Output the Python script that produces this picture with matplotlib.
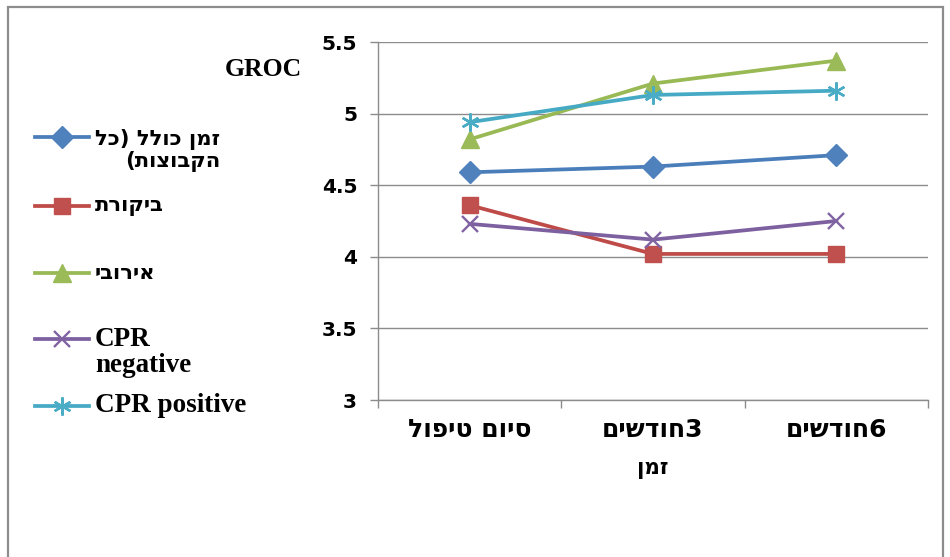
import matplotlib
matplotlib.use('Agg')
import matplotlib.pyplot as plt
from matplotlib.lines import Line2D
from matplotlib.patches import Rectangle

# GROC means per group at the three follow-up points
times = ['סיום טיפול', '3חודשים', '6חודשים']
total = [4.59, 4.63, 4.71]
control = [4.36, 4.02, 4.02]
aerobic = [4.82, 5.21, 5.37]
cpr_neg = [4.23, 4.12, 4.25]
cpr_pos = [4.94, 5.13, 5.16]

series_names = [['זמן כולל (כל', 'הקבוצות)'], ['ביקורת'], ['אירובי'],
                ['CPR', 'negative'], ['CPR positive']]
series_vals = [total, control, aerobic, cpr_neg, cpr_pos]
line_cols = ['#4A7EBB', '#BE4B48', '#98B954', '#7D60A0', '#46AAC5']
marker_cols = ['#4F81BD', '#C0504D', '#9BBB59', '#8064A2', '#4BACC6']
markers = ['D', 's', '^', 'x', (6, 2, 0)]
msizes = [11, 12, 13.5, 11, 13]

HEB = ['DejaVu Sans']
SERIF = ['Liberation Serif', 'DejaVu Serif']
MIRROR = str.maketrans('()', ')(')


def is_heb(s):
    return any('\u05d0' <= c <= '\u05ea' for c in s)


def rtl(s):
    # matplotlib lays glyphs out left to right, so right-to-left lines are flipped by hand
    return s[::-1].translate(MIRROR) if is_heb(s) else s


def mew(mk):
    return 1.7 if mk in ('x', (6, 2, 0)) else 1


fig = plt.figure(figsize=(9.5, 5.57), dpi=100)
ax = fig.add_axes([378 / 950, 1 - 400 / 557, 550 / 950, 358 / 557])

x = list(range(len(times)))
for vals, lc, mc, mk, ms in zip(series_vals, line_cols, marker_cols, markers, msizes):
    ax.plot(x, vals, color=lc, lw=2.7, marker=mk, ms=ms, mfc=mc, mec=mc,
            mew=mew(mk), zorder=3)

ax.set_xlim(-0.5, len(times) - 0.5)
ax.set_ylim(3, 5.5)
ax.set_yticks([3, 3.5, 4, 4.5, 5, 5.5])
ax.set_yticklabels(['3', '3.5', '4', '4.5', '5', '5.5'],
                   fontfamily='DejaVu Sans', fontweight='bold', fontsize=14.5)
ax.set_xticks(x)
ax.set_xticklabels([rtl(t) for t in times], fontfamily=HEB, fontweight='bold', fontsize=18)
ax.set_xticks([i - 0.5 for i in range(len(times) + 1)], minor=True)
ax.tick_params(axis='x', which='major', length=0, pad=13)
ax.tick_params(axis='x', which='minor', length=6, color='#8c8c8c', width=1)
ax.tick_params(axis='y', length=6, color='#8c8c8c', width=1, pad=9)
ax.grid(axis='y', color='#8c8c8c', lw=1)
ax.set_axisbelow(True)
for side in ['top', 'right']:
    ax.spines[side].set_visible(False)
for side in ['left', 'bottom']:
    ax.spines[side].set_color('#8c8c8c')
    ax.spines[side].set_linewidth(1)

ax.set_xlabel(rtl('זמן'), fontfamily=HEB, fontweight='bold', fontsize=15.5, labelpad=12)
ax.set_ylabel('GROC', rotation=0, fontfamily=SERIF, fontweight='bold', fontsize=18.5,
              ha='center', va='center')
ax.yaxis.set_label_coords(-0.209, 0.922)

# legend on the left, keys aligned with the first text line
key_y = [137, 206, 273, 339, 406]
for names, lc, mc, mk, ms, yy in zip(series_names, line_cols, marker_cols, markers, msizes, key_y):
    fy = 1 - yy / 557
    fig.add_artist(Line2D([35 / 950, 89 / 950], [fy, fy], transform=fig.transFigure,
                          color=lc, lw=2.7))
    fig.add_artist(Line2D([62 / 950], [fy], transform=fig.transFigure, marker=mk, ms=ms,
                          mfc=mc, mec=mc, mew=mew(mk), lw=0))
    heb = is_heb(names[0])
    label = '\n'.join(rtl(n) for n in names)
    fy_c = 1 - (yy + (len(names) - 1) * 13.5) / 557
    fig.text(95 / 950, fy_c, label, ha='left', va='center',
             multialignment='right' if heb else 'left',
             fontfamily=HEB if heb else SERIF, fontweight='bold',
             fontsize=15.2 if heb else 19.5, linespacing=1.0 if heb else 1.05)

# chart frame
fig.add_artist(Rectangle((8 / 950, -0.1), 935 / 950, 1.1 - 7 / 557, transform=fig.transFigure,
                         fill=False, edgecolor='#8c8c8c', lw=1.6))

fig.savefig('out.png', dpi=100)
